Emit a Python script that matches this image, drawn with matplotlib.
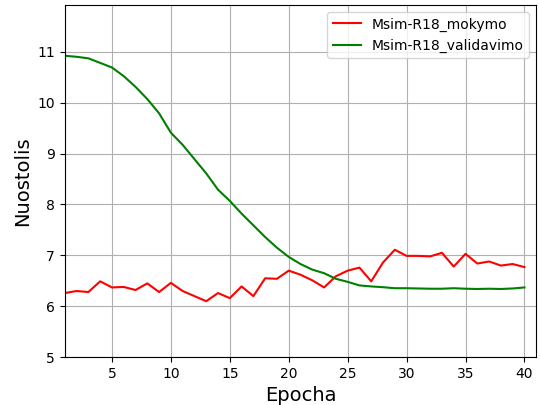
import matplotlib
matplotlib.use("Agg")
import matplotlib.pyplot as plt

# epochs 1..40
epochs = list(range(1, 41))

# training loss (red)
mokymo = [6.26, 6.30, 6.28, 6.49, 6.37, 6.38, 6.32, 6.45, 6.28, 6.46,
          6.30, 6.20, 6.10, 6.26, 6.16, 6.39, 6.20, 6.55, 6.54, 6.70,
          6.62, 6.51, 6.37, 6.59, 6.70, 6.76, 6.49, 6.86, 7.11, 6.99,
          6.99, 6.98, 7.05, 6.78, 7.03, 6.84, 6.88, 6.80, 6.83, 6.77]

# validation loss (green)
validavimo = [10.92, 10.90, 10.87, 10.78, 10.69, 10.52, 10.31, 10.07, 9.79, 9.41,
              9.17, 8.89, 8.61, 8.29, 8.07, 7.82, 7.59, 7.36, 7.15, 6.97,
              6.83, 6.72, 6.65, 6.54, 6.48, 6.41, 6.39, 6.375, 6.355, 6.355,
              6.35, 6.345, 6.345, 6.355, 6.345, 6.34, 6.345, 6.34, 6.35, 6.37]

fig, ax = plt.subplots(figsize=(5.4, 4.05), dpi=100)
ax.plot(epochs, mokymo, color="red", label="Msim-R18_mokymo")
ax.plot(epochs, validavimo, color="green", label="Msim-R18_validavimo")

ax.set_xlim(1, 41)
ax.set_ylim(5, max(validavimo) + 1)
ax.set_xlabel("Epocha", fontsize=14)
ax.set_ylabel("Nuostolis", fontsize=14)
ax.grid(True)
ax.legend(loc="upper right")

fig.subplots_adjust(left=0.120, right=0.993, top=0.988, bottom=0.118)
fig.savefig("out.png", dpi=100)
